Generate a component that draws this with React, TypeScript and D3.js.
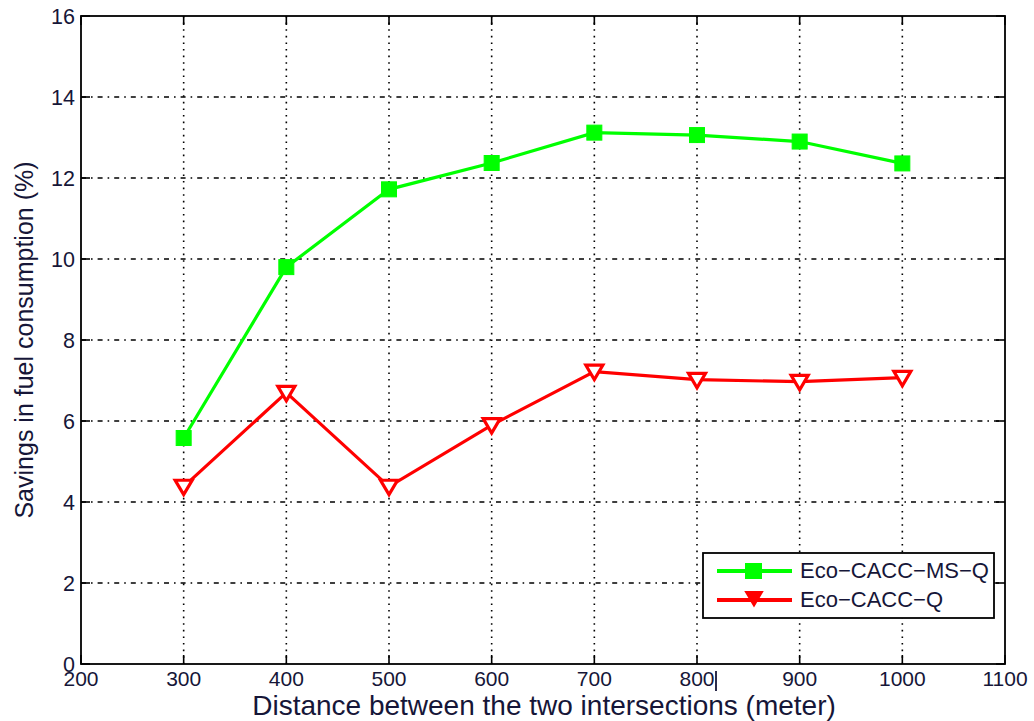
import React from "react";
import * as d3 from "d3";

const distances = [300, 400, 500, 600, 700, 800, 900, 1000];
const ecoMSQ = [5.58, 9.8, 11.72, 12.37, 13.12, 13.06, 12.9, 12.36];
const ecoQ = [4.38, 6.7, 4.38, 5.9, 7.22, 7.02, 6.97, 7.07];
const xTicks = [200, 300, 400, 500, 600, 700, 800, 900, 1000, 1100];
const yTicks = [0, 2, 4, 6, 8, 10, 12, 14, 16];
const seriesNames = ["Eco\u2212CACC\u2212MS\u2212Q", "Eco\u2212CACC\u2212Q"];
const xLabel = "Distance between the two intersections (meter)";
const yLabel = "Savings in fuel consumption (%)";

const W = 1034, H = 721;
const L = 81, R = 1005, T = 16, B = 664;
const FONT = "'Liberation Sans', Arial, sans-serif";
const TXT = "#161638";

export default function App() {
  const x = d3.scaleLinear().domain([200, 1100]).range([L, R]);
  const y = d3.scaleLinear().domain([0, 16]).range([B, T]);
  const line = d3.line<number>().x((_, i) => x(distances[i])).y((d) => y(d));
  const tri = (cx: number, cy: number, s: number) =>
    `M${cx - s},${cy - s * 0.75}L${cx + s},${cy - s * 0.75}L${cx},${cy + s * 0.95}Z`;
  const tick = 9;
  const lg = { x0: 703, y0: 553, x1: 994, y1: 618 };
  return (
    <svg width={W} height={H} style={{ position: "absolute", left: 0, top: 0, background: "#fff" }}>
      <rect x={0} y={0} width={W} height={H} fill="#fff" />
      {/* grid */}
      {xTicks.slice(1, -1).map((t) => (
        <line key={"gx" + t} x1={x(t)} x2={x(t)} y1={T} y2={B} stroke="#000" strokeWidth={1.6} strokeDasharray="1.6,5" />
      ))}
      {yTicks.slice(1, -1).map((t) => (
        <line key={"gy" + t} x1={L} x2={R} y1={y(t)} y2={y(t)} stroke="#000" strokeWidth={1.6} strokeDasharray="5,5,1.6,5" />
      ))}
      {/* ticks */}
      {yTicks.map((t) => (
        <g key={"ty" + t}>
          <line x1={L} x2={L + tick} y1={y(t)} y2={y(t)} stroke="#000" strokeWidth={1.6} />
          <line x1={R} x2={R - tick} y1={y(t)} y2={y(t)} stroke="#000" strokeWidth={1.6} />
          <text x={L - 6} y={y(t) + 8} textAnchor="end" fontFamily={FONT} fontSize={21.5} fill={TXT}>{t}</text>
        </g>
      ))}
      {xTicks.map((t) => (
        <g key={"tx" + t}>
          <line x1={x(t)} x2={x(t)} y1={B} y2={B - tick} stroke="#000" strokeWidth={1.6} />
          <line x1={x(t)} x2={x(t)} y1={T} y2={T + tick} stroke="#000" strokeWidth={1.6} />
          <text x={x(t)} y={B + 22} textAnchor="middle" fontFamily={FONT} fontSize={21} fill={TXT}>{t}</text>
        </g>
      ))}
      <line x1={x(800) + 19} x2={x(800) + 19} y1={B + 7} y2={B + 27} stroke={TXT} strokeWidth={1.8} />
      <rect x={L} y={T} width={R - L} height={B - T} fill="none" stroke="#000" strokeWidth={1.8} />
      {/* series */}
      <path d={line(ecoMSQ) || ""} fill="none" stroke="#00ff00" strokeWidth={3.2} />
      {ecoMSQ.map((v, i) => (
        <rect key={"m" + i} x={x(distances[i]) - 7.5} y={y(v) - 7.5} width={15} height={15} fill="#00ff00" stroke="#00ff00" strokeWidth={1} />
      ))}
      <path d={line(ecoQ) || ""} fill="none" stroke="#ff0000" strokeWidth={3.2} />
      {ecoQ.map((v, i) => (
        <path key={"r" + i} d={tri(x(distances[i]), y(v), 8.5)} fill="#fff" stroke="#ff0000" strokeWidth={3.2} />
      ))}
      {/* legend */}
      <rect x={lg.x0} y={lg.y0} width={lg.x1 - lg.x0} height={lg.y1 - lg.y0} fill="#fff" stroke="#000" strokeWidth={1.8} />
      <line x1={717} x2={792} y1={571} y2={571} stroke="#00ff00" strokeWidth={4} />
      <rect x={745} y={563} width={17} height={16} fill="#00ff00" />
      <text x={800} y={578} fontFamily={FONT} fontSize={22} fill={TXT}>{seriesNames[0]}</text>
      <line x1={717} x2={792} y1={600} y2={600} stroke="#ff0000" strokeWidth={4} />
      <path d={tri(754, 598, 8)} fill="#ff0000" stroke="#ff0000" strokeWidth={2} />
      <text x={800} y={607} fontFamily={FONT} fontSize={22} fill={TXT}>{seriesNames[1]}</text>
      {/* axis labels */}
      <text x={544} y={715} textAnchor="middle" fontFamily={FONT} fontSize={28} fill={TXT}>{xLabel}</text>
      <text transform={`translate(33,340) rotate(-90)`} textAnchor="middle" fontFamily={FONT} fontSize={25} fill={TXT}>{yLabel}</text>
    </svg>
  );
}
